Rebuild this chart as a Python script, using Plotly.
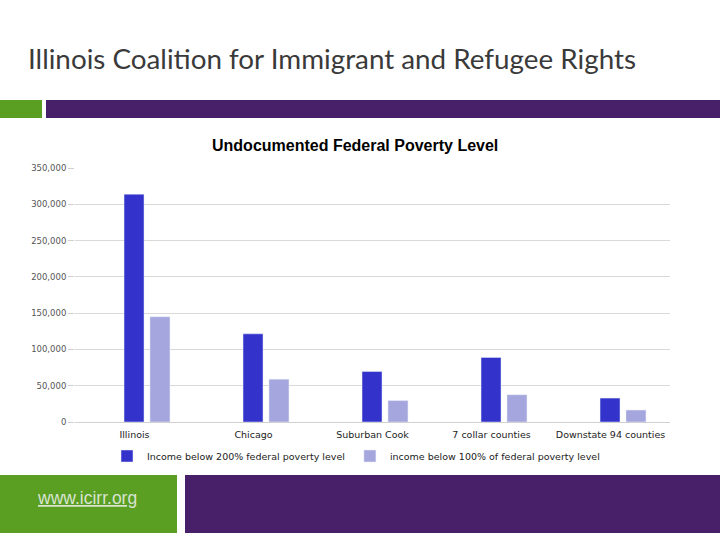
import plotly.graph_objects as go

# data
regions = ["Illinois", "Chicago", "Suburban Cook", "7 collar counties", "Downstate 94 counties"]
below_200 = [314000, 121500, 69500, 89000, 33000]
below_100 = [145000, 59000, 29500, 37500, 16500]
y_ticks = [0, 50000, 100000, 150000, 200000, 250000, 300000, 350000]
y_tick_text = ["0", "50,000", "100,000", "150,000", "200,000", "250,000", "300,000", "350,000"]

# plot area in pixels
L, R, T, B = 75, 670, 168, 422
W, H = 720, 540


def px(x):
    return (x - L) / (R - L)


def py(y):
    return (B - y) / (B - T)


# bars sit a bit right of the category labels in the original
fig = go.Figure()
fig.add_trace(go.Bar(x=regions, y=below_200, name="Income below 200% federal poverty level",
                     marker_color="#3333cc", offset=-0.088, width=0.168))
fig.add_trace(go.Bar(x=regions, y=below_100, name="income below 100% of federal poverty level",
                     marker_color="#a6a6de", offset=0.13, width=0.168))

shapes = [
    dict(x0=px(0), x1=px(42), y0=py(100), y1=py(118), color="#5a9e22"),
    dict(x0=px(46), x1=px(720), y0=py(100), y1=py(118), color="#48206a"),
    dict(x0=px(0), x1=px(177), y0=py(475), y1=py(533), color="#5a9e22"),
    dict(x0=px(185), x1=px(720), y0=py(475), y1=py(533), color="#48206a"),
]
for s in shapes:
    fig.add_shape(type="rect", xref="paper", yref="paper", x0=s["x0"], x1=s["x1"],
                  y0=s["y0"], y1=s["y1"], fillcolor=s["color"], line_width=0, layer="below")

fig.add_annotation(text="Illinois Coalition for Immigrant and Refugee Rights", xref="paper", yref="paper",
                   x=px(26), y=py(58), xanchor="left", yanchor="middle", showarrow=False,
                   font=dict(family="Lato", size=27.8, color="#3a3a3a"))
fig.add_annotation(text="<b>Undocumented Federal Poverty Level</b>", xref="paper", yref="paper",
                   x=px(355), y=py(145), xanchor="center", yanchor="middle", showarrow=False,
                   font=dict(family="Liberation Sans, Arial", size=16, color="#000000"))
fig.add_annotation(text="<u>www.icirr.org</u>", xref="paper", yref="paper",
                   x=px(87), y=py(498), xanchor="center", yanchor="middle", showarrow=False,
                   font=dict(family="Liberation Sans, Arial", size=17.5, color="#d8e4d0"))

fig.update_layout(
    width=W, height=H,
    margin=dict(l=L, r=W - R, t=T, b=H - B, autoexpand=False),
    paper_bgcolor="white", plot_bgcolor="white",
    barmode="group",
    showlegend=True,
    legend=dict(orientation="h", x=px(356), y=py(456), xanchor="center", yanchor="middle",
                font=dict(family="DejaVu Sans", size=9.5, color="#222"), itemwidth=30,
                tracegroupgap=0),
    font=dict(family="DejaVu Sans"),
)
fig.update_yaxes(range=[0, 350000], tickvals=y_ticks, ticktext=y_tick_text,
                 showgrid=True, gridcolor="#d9d9d9", gridwidth=1,
                 ticks="outside", ticklen=6, tickcolor="#d0d0d0",
                 tickfont=dict(family="DejaVu Sans", size=8.5, color="#555"),
                 zeroline=False, showline=False)
fig.update_xaxes(showline=True, linecolor="#d0d0d0", ticks="", ticklabelstandoff=4,
                 tickfont=dict(family="DejaVu Sans", size=9.5, color="#222"))

# the page's default body margin would push the slide 8px down and right
fig.write_html("out.html", config={"displayModeBar": False},
               post_script="document.body.style.margin='0';")
